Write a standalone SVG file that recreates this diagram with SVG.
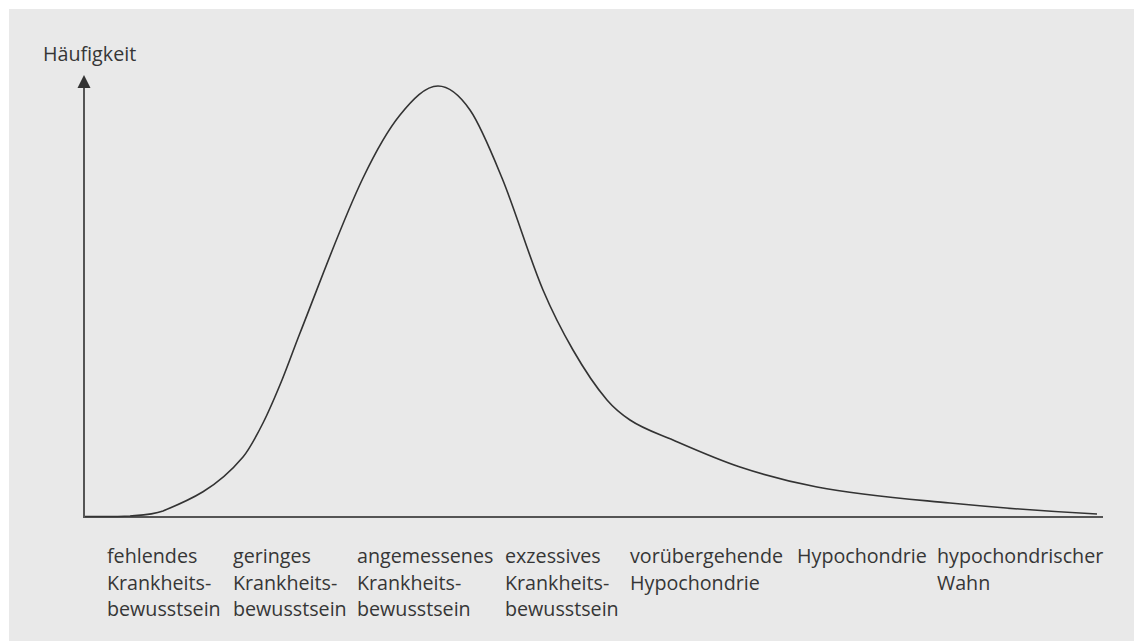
<svg xmlns="http://www.w3.org/2000/svg" width="1134" height="641" viewBox="0 0 1134 641">
<style>
.lbl{font-family:"Open Sans","Noto Sans","Liberation Sans",sans-serif;font-size:19.7px;fill:#363636}
.axis{stroke:#555;stroke-width:2;fill:none}
.curve{stroke:#333;stroke-width:1.6;fill:none}
</style>
<rect x="0" y="0" width="1134" height="641" fill="#ffffff"/>
<rect x="9" y="9" width="1125" height="632" fill="#e9e9e9"/>
<g id="axes">
<line class="axis" x1="84" y1="517" x2="84" y2="86"/>
<polygon points="84,75 77.5,88 90.5,88" fill="#333"/>
<line class="axis" x1="83" y1="517" x2="1103" y2="517"/>
<text class="lbl" x="43" y="61">Häufigkeit</text>
</g>
<g id="curve">
<path class="curve" d="M85,516.5 C100,516.5 115,516.8 130,516 C141,515.16 152,515 163,511 C189.67,500.06 216.33,488.7 243,457 C249.67,449.06 256.33,436.2 263,423 C269.33,410.46 275.67,395.43 282,380 C288,365.38 294,348.21 300,333 C321,279.8 342,221.7 363,178 C375.33,152.35 387.67,130.2 400,115 C412.67,99.38 425.33,86 438,86 C448.67,86 459.33,94.67 470,110 C480.67,125.33 491.33,152.07 502,178 C515.67,211.21 529.33,257.66 543,290 C553,313.66 563,332.65 573,350 C584.33,369.66 595.67,386.74 607,400 C614.67,408.97 622.33,414.88 630,420 C644.33,429.57 658.67,433.78 673,440 C695.33,449.69 717.67,459.59 740,467 C765.67,475.52 791.33,482.12 817,487 C861.33,495.42 905.67,498.68 950,503 C999,507.78 1048,511.55 1097,514"/>
</g>
<g id="label-fehlendes"><text class="lbl" x="107" y="563">fehlendes</text><text class="lbl" x="107" y="589.5">Krankheits-</text><text class="lbl" x="107" y="616">bewusstsein</text></g>
<g id="label-geringes"><text class="lbl" x="233" y="563">geringes</text><text class="lbl" x="233" y="589.5">Krankheits-</text><text class="lbl" x="233" y="616">bewusstsein</text></g>
<g id="label-angemessenes"><text class="lbl" x="357" y="563">angemessenes</text><text class="lbl" x="357" y="589.5">Krankheits-</text><text class="lbl" x="357" y="616">bewusstsein</text></g>
<g id="label-exzessives"><text class="lbl" x="505" y="563">exzessives</text><text class="lbl" x="505" y="589.5">Krankheits-</text><text class="lbl" x="505" y="616">bewusstsein</text></g>
<g id="label-voruebergehende"><text class="lbl" x="630" y="563">vorübergehende</text><text class="lbl" x="630" y="589.5">Hypochondrie</text></g>
<g id="label-hypochondrie"><text class="lbl" x="797" y="563">Hypochondrie</text></g>
<g id="label-wahn"><text class="lbl" x="937" y="563">hypochondrischer</text><text class="lbl" x="937" y="589.5">Wahn</text></g>
</svg>
